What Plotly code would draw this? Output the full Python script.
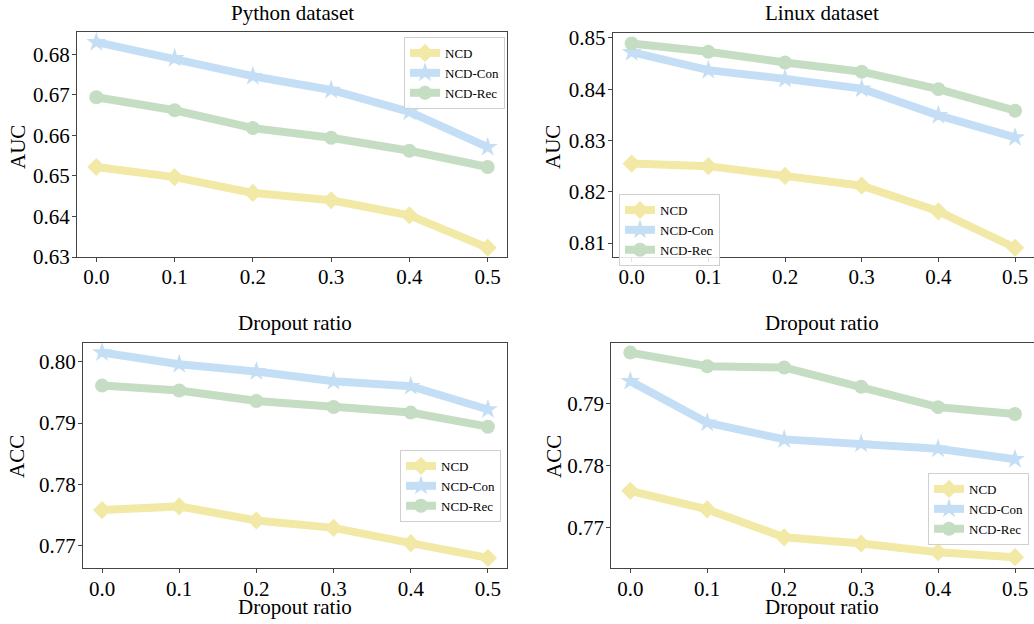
import plotly.graph_objects as go

dropout = [0.0, 0.1, 0.2, 0.3, 0.4, 0.5]
series_names = ["NCD", "NCD-Con", "NCD-Rec"]

python_auc_ncd = [0.6522, 0.6497, 0.6458, 0.6440, 0.6403, 0.6323]
python_auc_con = [0.6830, 0.6790, 0.6746, 0.6712, 0.6658, 0.6571]
python_auc_rec = [0.6694, 0.6662, 0.6618, 0.6594, 0.6562, 0.6522]

linux_auc_ncd = [0.8255, 0.8250, 0.8231, 0.8212, 0.8162, 0.8091]
linux_auc_con = [0.8472, 0.8437, 0.8420, 0.8401, 0.8349, 0.8306]
linux_auc_rec = [0.8489, 0.8473, 0.8452, 0.8434, 0.8400, 0.8358]

python_acc_ncd = [0.7758, 0.7764, 0.7741, 0.7729, 0.7704, 0.7680]
python_acc_con = [0.8015, 0.7996, 0.7984, 0.7968, 0.7960, 0.7922]
python_acc_rec = [0.7961, 0.7953, 0.7936, 0.7926, 0.7917, 0.7894]

linux_acc_ncd = [0.7759, 0.7729, 0.7684, 0.7674, 0.7660, 0.7652]
linux_acc_con = [0.7936, 0.7869, 0.7842, 0.7835, 0.7827, 0.7810]
linux_acc_rec = [0.7982, 0.7960, 0.7958, 0.7927, 0.7894, 0.7883]

x_ticks = [0.0, 0.1, 0.2, 0.3, 0.4, 0.5]
yticks_python_auc = [0.63, 0.64, 0.65, 0.66, 0.67, 0.68]
yticks_linux_auc = [0.81, 0.82, 0.83, 0.84, 0.85]
yticks_python_acc = [0.77, 0.78, 0.79, 0.80]
yticks_linux_acc = [0.77, 0.78, 0.79]

colors = ["#f2e9a6", "#c4dff5", "#c5ddc2"]
symbols = ["diamond", "star", "circle"]
msizes = [14, 15, 14]

FONT = "Liberation Serif, Times New Roman, serif"
W, H = 1034, 624

def px(x):
    return x / W

def py(y):
    return 1 - y / H

panels = [
    ([python_auc_ncd, python_auc_con, python_auc_rec], (77, 507), (32, 257),
     (0.6300, 0.6855), yticks_python_auc, (404, 37)),
    ([linux_auc_ncd, linux_auc_con, linux_auc_rec], (612.7, 1034), (32.7, 257),
     (0.8073, 0.8510), yticks_linux_auc, (619, 194)),
    ([python_acc_ncd, python_acc_con, python_acc_rec], (83, 507), (342.7, 568.3),
     (0.7663, 0.8031), yticks_python_acc, (400, 450)),
    ([linux_acc_ncd, linux_acc_con, linux_acc_rec], (611.3, 1034), (342.7, 568.3),
     (0.7634, 0.7998), yticks_linux_acc, (928, 473)),
]

fig = go.Figure()
layout = {}
for i, (data, xd, yd, yr, yt, lg) in enumerate(panels):
    k = "" if i == 0 else str(i + 1)
    legname = "legend" + k
    for j in range(3):
        fig.add_trace(go.Scatter(
            x=dropout, y=data[j], name=series_names[j], mode="lines+markers",
            line=dict(color=colors[j], width=8),
            marker=dict(symbol=symbols[j], size=msizes[j], color=colors[j],
                        line=dict(width=0)),
            xaxis="x" + k, yaxis="y" + k, legend=legname, showlegend=True,
        ))
    axcommon = dict(showline=True, linecolor="#444", linewidth=1, mirror=True,
                    ticks="outside", ticklen=4, tickcolor="#444", showgrid=False,
                    zeroline=False, automargin=False,
                    tickfont=dict(family=FONT, size=21, color="black"))
    layout["xaxis" + k] = dict(domain=[px(xd[0]), min(px(xd[1]), 1.0)],
                               anchor="y" + k, range=[-0.0247, 0.5247],
                               tickvals=x_ticks, tickformat=".1f",
                               ticklabelstandoff=-3, **axcommon)
    layout["yaxis" + k] = dict(domain=[py(yd[1]), py(yd[0])],
                               anchor="x" + k, range=list(yr),
                               tickvals=yt, tickformat=".2f",
                               ticklabelstandoff=-2, **axcommon)
    layout[legname] = dict(x=px(lg[0]), y=py(lg[1]), xanchor="left", yanchor="top",
                           bgcolor="rgba(255,255,255,0.85)", bordercolor="#d0d0d0",
                           borderwidth=1, font=dict(family=FONT, size=13, color="black"),
                           tracegroupgap=0, itemwidth=30)

ann = []
def txt(x, y, s, angle=0, size=21):
    ann.append(dict(x=px(x), y=py(y), xref="paper", yref="paper", text=s,
                    showarrow=False, textangle=angle, xanchor="center", yanchor="middle",
                    font=dict(family=FONT, size=size, color="black")))

txt(292, 13, "Python dataset")
txt(822, 13, "Linux dataset")
txt(295, 323, "Dropout ratio")
txt(822, 323, "Dropout ratio")
txt(295, 607, "Dropout ratio")
txt(822, 607, "Dropout ratio")
txt(18, 147, "AUC", -90)
txt(553, 147, "AUC", -90)
txt(17, 457, "ACC", -90)
txt(554, 457, "ACC", -90)

fig.update_layout(template="none", width=W, height=H, margin=dict(l=0, r=0, t=0, b=0, pad=0),
                  paper_bgcolor="white", plot_bgcolor="white", hovermode=False,
                  annotations=ann, **layout)
fig.write_html("out.html", config={"displayModeBar": False, "staticPlot": True},
               post_script="document.body.style.margin='0px';document.body.style.overflow='hidden';")
